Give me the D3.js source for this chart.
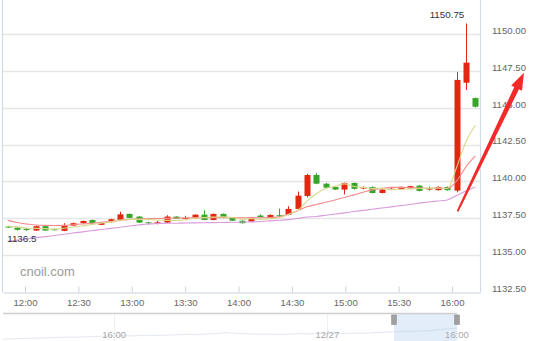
<!DOCTYPE html>
<html><head><meta charset="utf-8">
<script src="https://cdn.jsdelivr.net/npm/d3@7"></script>
<style>
html,body{margin:0;padding:0;background:#fff;overflow:hidden}
svg{display:block}
text{font-family:"Liberation Sans",Arial,sans-serif}
</style>
</head><body>
<svg id="chart" width="550" height="341"></svg>
<script>
// ---- data ----
const openP  = [1136.97,1136.90,1136.82,1136.70,1137.00,1136.79,1136.68,1137.04,1137.20,1137.42,
                1137.09,1137.27,1137.42,1137.83,1137.65,1137.26,1137.24,1137.24,1137.65,1137.50,
                1137.54,1137.78,1137.42,1137.83,1137.60,1137.37,1137.30,1137.72,1137.58,1137.74,
                1137.76,1138.17,1139.05,1140.47,1139.88,1139.66,1139.48,1139.93,1139.58,1139.66,
                1139.25,1139.52,1139.52,1139.57,1139.75,1139.52,1139.44,1139.66,1139.41,1146.73,
                1145.69];
const closeP = [1136.93,1136.75,1136.74,1137.00,1136.70,1136.76,1137.04,1137.20,1137.35,1137.20,
                1137.22,1137.47,1137.80,1137.56,1137.24,1137.23,1137.26,1137.65,1137.51,1137.55,
                1137.78,1137.42,1137.83,1137.56,1137.37,1137.20,1137.58,1137.60,1137.76,1137.72,
                1138.17,1139.07,1140.47,1139.88,1139.61,1139.48,1139.93,1139.53,1139.62,1139.25,
                1139.48,1139.54,1139.66,1139.71,1139.39,1139.55,1139.66,1139.44,1146.92,1148.09,
                1145.10];
const highP  = [1137.02,1136.95,1136.86,1137.03,1137.02,1136.84,1137.20,1137.24,1137.38,1137.44,
                1137.26,1137.50,1137.98,1137.86,1137.68,1137.30,1137.36,1137.74,1137.67,1137.70,
                1137.80,1138.07,1137.86,1137.86,1137.62,1137.40,1137.62,1137.80,1137.80,1138.20,
                1138.35,1139.35,1140.55,1140.60,1139.92,1139.70,1139.96,1139.96,1139.70,1139.70,
                1139.50,1139.58,1139.69,1139.74,1139.78,1139.68,1139.70,1139.69,1147.46,1150.75,
                1145.72];
const lowP   = [1136.88,1136.70,1136.68,1136.68,1136.68,1136.70,1136.66,1137.02,1137.18,1137.18,
                1137.07,1137.25,1137.40,1137.54,1137.22,1137.10,1137.12,1137.22,1137.49,1137.48,
                1137.52,1137.40,1137.40,1137.54,1137.35,1137.18,1137.28,1137.58,1137.56,1137.60,
                1137.74,1138.12,1138.95,1139.85,1139.58,1139.45,1139.15,1139.48,1139.50,1139.22,
                1139.22,1139.50,1139.50,1139.55,1139.36,1139.42,1139.42,1139.41,1139.30,1146.24,
                1145.05];
const ma5  = [1137.00,1136.95,1136.88,1136.85,1136.83,1136.80,1136.86,1136.94,1137.01,1137.11,
              1137.20,1137.29,1137.41,1137.45,1137.46,1137.46,1137.42,1137.39,1137.38,1137.44,
              1137.55,1137.58,1137.62,1137.63,1137.59,1137.48,1137.51,1137.46,1137.50,1137.57,
              1137.77,1138.06,1138.70,1139.20,1139.55,1139.70,1139.87,1139.69,1139.63,1139.56,
              1139.56,1139.48,1139.50,1139.52,1139.55,1139.57,1139.59,1139.55,1140.99,1142.73,
              1143.84];
const ma10 = [1137.39,1137.25,1137.15,1137.08,1137.05,1137.04,1137.05,1137.10,1137.15,1137.20,
              1137.27,1137.32,1137.39,1137.46,1137.49,1137.51,1137.52,1137.53,1137.55,1137.56,
              1137.57,1137.58,1137.58,1137.58,1137.57,1137.56,1137.56,1137.57,1137.58,1137.63,
              1137.83,1138.05,1138.31,1138.47,1138.62,1138.78,1138.95,1139.12,1139.30,1139.46,
              1139.56,1139.63,1139.63,1139.61,1139.59,1139.57,1139.57,1139.56,1140.07,1141.02,
              1141.76];
const ma30 = [1135.97,1136.05,1136.14,1136.22,1136.29,1136.37,1136.45,1136.54,1136.61,1136.69,
              1136.77,1136.85,1136.93,1137.01,1137.08,1137.15,1137.18,1137.20,1137.20,1137.21,
              1137.22,1137.23,1137.24,1137.25,1137.26,1137.28,1137.29,1137.32,1137.36,1137.40,
              1137.44,1137.52,1137.62,1137.66,1137.74,1137.82,1137.90,1137.99,1138.07,1138.15,
              1138.23,1138.31,1138.39,1138.47,1138.56,1138.64,1138.71,1138.78,1139.08,1139.39,
              1139.66];
const xTickLabels = ["12:00","12:30","13:00","13:30","14:00","14:30","15:00","15:30","16:00"];
const yTickValues = [1132.5,1135,1137.5,1140,1142.5,1145,1147.5,1150];
const maxLabel = {i:49, v:1150.75, text:"1150.75"};
const minLabel = {i:0, v:1136.5, text:"1136.5"};
const navData = [1131.5,1131.8,1132.0,1132.3,1132.2,1132.6,1132.9,1133.1,1133.0,1133.4,
                 1133.6,1133.9,1134.0,1134.2,1134.1,1134.4,1134.6,1134.5,1134.8,1135.0,
                 1135.3,1135.1,1135.6,1135.9,1136.8,1136.2,1135.8,1135.6,1135.4,1135.5,
                 1135.3,1135.6,1135.8,1135.7,1135.9,1136.0,1135.8,1136.1,1136.3,1136.2,
                 1136.6,1137.0,1137.4,1137.6,1137.8,1138.0,1138.2,1139.2,1139.6,1140.4];
const navTicks = [{i:12, t:"16:00"}, {i:35, t:"12/27"}, {i:49, t:"16:00"}];
const navSelection = [42.2, 49];
const arrowFrom = {i:48.1, v:1138.0};
const arrowTo   = {i:55.2, v:1147.4};

// ---- layout ----
const L = 3, R = 480, T = 0, B = 292.5;
const svg = d3.select("#chart");
const n = openP.length;
const xb = d3.scaleBand().domain(d3.range(n)).range([L, R]);
const xi = d3.scaleLinear().domain([-0.5, n - 0.5]).range([L, R]);
const y = d3.scaleLinear().domain([1132.5, 1150]).range([B, 34.5]);
const crisp = v => Math.round(v - 0.5) + 0.5;

const parseT = d3.timeParse("%H:%M:%S");
const xt = d3.scaleTime().domain([parseT("11:47:38"), parseT("16:15:44")]).range([L, R]);
const tFmt = d3.timeParse("%H:%M");

// grid
svg.append("g").selectAll("line").data(yTickValues.filter(v => v > 1132.5)).join("line")
  .attr("x1", L).attr("x2", R)
  .attr("y1", d => crisp(y(d))).attr("y2", d => crisp(y(d)))
  .attr("stroke", "#e6e6e6").attr("stroke-width", 1.3);

// left axis line
svg.append("line").attr("x1", 2.5).attr("x2", 2.5).attr("y1", 0).attr("y2", B)
  .attr("stroke", "#d3dbe8").attr("stroke-width", 1.2);

// right axis
const yAxis = d3.axisRight(y).tickValues(yTickValues).tickSize(0).tickPadding(12)
  .tickFormat(d3.format(".2f"));
const gy = svg.append("g").attr("transform", `translate(${R},0)`).call(yAxis);
gy.select(".domain").attr("d", `M0.5,0V${B}`).attr("stroke", "#d3dbe8").attr("stroke-width", 1.2);
gy.selectAll("text").attr("dy", "-0.12em").attr("fill", "#666")
  .style("font-size", "9.6px").style("font-family", '"Liberation Sans",Arial,sans-serif');

// bottom axis
const xAxis = d3.axisBottom(xt).tickValues(xTickLabels.map(s => tFmt(s)))
  .tickFormat(d3.timeFormat("%H:%M")).tickSizeInner(-6).tickSizeOuter(0).tickPadding(6.5);
const gx = svg.append("g").attr("transform", `translate(0,${B})`).call(xAxis);
gx.select(".domain").attr("stroke", "#c9d2e0").attr("stroke-width", 1.2);
gx.selectAll(".tick line").attr("stroke", "#c9d2e0");
gx.selectAll("text").attr("fill", "#666")
  .style("font-size", "9.6px").style("font-family", '"Liberation Sans",Arial,sans-serif');

// watermark
svg.append("text").attr("x", 20).attr("y", 276).text("cnoil.com")
  .attr("fill", "#9a9a9a").style("font-size", "13px");

// candles
const up = "#e3260f", down = "#36a62b";
const cx = i => xb(i) + xb.bandwidth() / 2;
const cg = svg.append("g");
const idx = d3.range(n);
cg.selectAll("line.wick").data(idx).join("line").attr("class", "wick")
  .attr("x1", i => Math.round(cx(i)) + 0.5).attr("x2", i => Math.round(cx(i)) + 0.5)
  .attr("y1", i => y(highP[i])).attr("y2", i => y(lowP[i]))
  .attr("stroke", i => closeP[i] >= openP[i] ? up : down).attr("stroke-width", 1);
cg.selectAll("rect").data(idx).join("rect")
  .attr("x", i => Math.round(cx(i)) + 0.5 - 3)
  .attr("width", 6)
  .attr("y", i => y(Math.max(openP[i], closeP[i])))
  .attr("height", i => Math.max(1, Math.abs(y(openP[i]) - y(closeP[i]))))
  .attr("fill", i => closeP[i] >= openP[i] ? up : down);

// MA lines
const lineGen = arr => d3.line().x((d, i) => cx(i)).y(d => y(d)).curve(d3.curveMonotoneX)(arr);
[[ma30, "#d99bdc"], [ma10, "#f28b8b"], [ma5, "#d8d88a"]].forEach(([arr, c]) => {
  svg.append("path").attr("d", lineGen(arr)).attr("fill", "none")
    .attr("stroke", c).attr("stroke-width", 1.1);
});

// max / min labels
svg.append("text").attr("x", cx(maxLabel.i) - 19).attr("y", y(maxLabel.v) - 5.6)
  .attr("text-anchor", "middle").text(maxLabel.text).attr("fill", "#333").style("font-size", "9.8px");
svg.append("text").attr("x", cx(minLabel.i) - 0.5).attr("y", y(minLabel.v) + 8)
  .text(minLabel.text).attr("fill", "#333").style("font-size", "9.8px");

// navigator
const NT = 313, NB = 341, NR = 457;
const nx = d3.scaleLinear().domain([0, navData.length - 1]).range([L, NR]);
const ny = d3.scaleLinear().domain([1130, 1150]).range([NB, 316]);
const ng = svg.append("g");
ng.selectAll("line.vg").data(navTicks.slice(0, 2)).join("line").attr("class", "vg")
  .attr("x1", d => crisp(nx(d.i))).attr("x2", d => crisp(nx(d.i)))
  .attr("y1", NT).attr("y2", NB).attr("stroke", "#f0f0f0");
ng.append("path").attr("d", d3.line().x((d, i) => nx(i)).y(d => ny(d))(navData))
  .attr("fill", "none").attr("stroke", "#e3e8f0").attr("stroke-width", 1);
ng.append("rect").attr("x", nx(navSelection[0])).attr("y", NT)
  .attr("width", nx(navSelection[1]) - nx(navSelection[0])).attr("height", NB - NT)
  .attr("fill", "#a9c8ee").attr("fill-opacity", 0.33);
ng.append("line").attr("x1", L).attr("x2", NR).attr("y1", NT + 0.5).attr("y2", NT + 0.5)
  .attr("stroke", "#cfcfcf").attr("stroke-width", 1.6);
ng.selectAll("text").data(navTicks).join("text")
  .attr("x", d => nx(d.i)).attr("y", 338).attr("text-anchor", "middle")
  .text(d => d.t).attr("fill", "#a8a8a8").style("font-size", "9.5px");
ng.selectAll("rect.h").data(navSelection).join("rect").attr("class", "h")
  .attr("x", d => nx(d) - 2.3).attr("y", 315).attr("width", 4.6).attr("height", 9.5)
  .attr("fill", "#a0a0a0").attr("stroke", "#8c8c8c").attr("stroke-width", 0.6);

// red arrow annotation
(function () {
  const x0 = xi(arrowFrom.i), y0 = y(arrowFrom.v), x1 = xi(arrowTo.i), y1 = y(arrowTo.v);
  const dx = x1 - x0, dy = y1 - y0, len = Math.hypot(dx, dy);
  const ux = dx / len, uy = dy / len, nx_ = -uy, ny_ = ux;
  const headLen = 17, headW = 6, w0 = 1, w1 = 2.6;
  const bx = x1 - ux * headLen, by = y1 - uy * headLen;
  const pts = [
    [x0 + nx_ * w0, y0 + ny_ * w0],
    [bx + nx_ * w1, by + ny_ * w1],
    [bx + nx_ * headW, by + ny_ * headW],
    [x1, y1],
    [bx - nx_ * headW, by - ny_ * headW],
    [bx - nx_ * w1, by - ny_ * w1],
    [x0 - nx_ * w0, y0 - ny_ * w0]
  ];
  svg.append("path").attr("d", "M" + pts.map(p => p.join(",")).join("L") + "Z")
    .attr("fill", "#f42a2a");
})();
</script>
</body></html>
